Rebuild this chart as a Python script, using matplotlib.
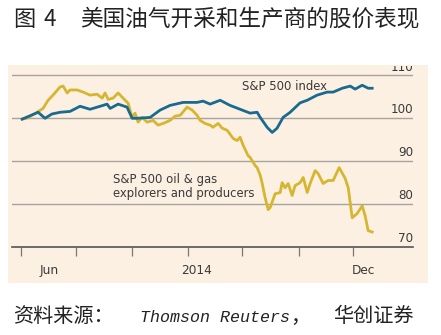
import matplotlib.pyplot as plt
from matplotlib.patches import Rectangle

# days since 1 June 2014, index values (start = 100)
sp_days = [0.6, 9.4, 13.2, 17.0, 21.5, 27.0, 32.5, 38.0, 43.6, 47.4, 49.1, 53.5, 58.4, 61.2, 63.9,
           71.1, 76.6, 82.1, 89.3, 97.0, 100.3, 104.2, 109.7, 115.2, 120.7, 126.2, 130.1, 131.8,
           135.6, 138.4, 141.1, 144.4, 148.3, 153.8, 157.7, 163.2, 168.7, 172.0, 177.0, 181.4,
           184.1, 188.0, 191.3, 193.5]
sp_values = [99.8, 101.4, 100.0, 101.0, 101.4, 101.6, 102.8, 102.1, 102.8, 103.3, 102.3, 103.3, 102.6,
             100.0, 100.0, 100.2, 101.9, 103.0, 103.7, 103.7, 104.0, 103.3, 104.2, 103.0, 102.1,
             101.2, 101.4, 100.2, 97.9, 96.7, 97.7, 100.2, 101.4, 103.6, 104.2, 105.4, 106.1, 106.1,
             107.0, 107.5, 106.8, 107.7, 107.0, 107.0]

oil_days = [0.6, 3.3, 8.8, 12.1, 14.9, 17.6, 21.5, 23.2, 25.4, 27.0, 30.9, 34.2, 38.0, 41.9, 44.7,
            46.3, 48.0, 50.7, 53.5, 56.2, 59.0, 61.2, 62.8, 64.5, 66.7, 69.5, 72.8, 75.5, 78.3,
            82.1, 84.9, 87.7, 91.5, 94.3, 97.0, 98.7, 101.4, 104.2, 105.8, 108.6, 110.8, 113.6,
            116.9, 119.1, 120.7, 122.4, 125.1, 126.2, 129.0, 130.1, 131.8, 132.9, 134.5, 136.2,
            137.3, 140.0, 142.8, 143.9, 145.5, 147.2, 149.4, 151.0, 153.8, 155.5, 157.7, 159.3,
            162.1, 163.7, 166.5, 169.2, 172.0, 175.3, 178.6, 180.3, 182.5, 185.2, 188.0, 189.6,
            191.3, 193.5]
oil_values = [99.8, 100.0, 101.4, 102.3, 104.2, 105.4, 107.3, 107.5, 105.9, 106.6, 106.6, 106.1,
              105.4, 105.6, 104.7, 105.9, 104.4, 104.7, 105.9, 104.7, 103.5, 100.2, 101.2, 99.1,
              100.2, 99.1, 99.5, 98.4, 98.8, 99.5, 100.5, 100.7, 102.6, 101.9, 100.7, 99.5, 98.8,
              98.4, 97.9, 98.8, 97.7, 97.2, 95.3, 94.8, 95.6, 93.7, 91.3, 90.9, 89.0, 88.5, 86.7,
              84.8, 81.5, 78.7, 79.2, 82.4, 82.7, 85.0, 83.8, 84.8, 82.0, 84.3, 85.0, 86.2, 82.7,
              84.8, 87.8, 87.1, 84.8, 85.5, 85.5, 88.5, 86.0, 83.8, 76.8, 77.8, 79.6, 77.3, 73.8,
              73.5]

month_starts = [0, 30, 61, 92, 122, 153, 183]
label_days = [15.4, 96.5, 188.5]
label_text = ['Jun', '2014', 'Dec']
grid_levels = [70, 80, 90, 100, 110]

W, H = 441, 335
bg = '#fcf0e2'
gold = '#d6b630'
blue = '#1a6a90'
txt = '#3a3a3a'


def fx(px):
    return px / W


def fy(py):
    return 1 - py / H


fig = plt.figure(figsize=(W / 100, H / 100), dpi=100)
fig.patches.append(Rectangle((fx(8), fy(283)), fx(428) - fx(8), fy(65) - fy(283),
                             transform=fig.transFigure, facecolor=bg, edgecolor='none', zorder=-5))

ax = fig.add_axes([fx(12), fy(247), fx(413) - fx(12), fy(65.5) - fy(247)], zorder=2)
ax.set_facecolor('none')
ax.set_xlim(-5, 216)
ax.set_ylim(70, 112.3)

for lv in grid_levels[1:]:
    ax.axhline(lv, color='#a8a39c', lw=1.0, zorder=1)
for lv in grid_levels:
    ax.text(216, lv + 1.95, str(lv), ha='right', va='center', fontsize=8.6, color=txt,
            clip_on=True)

ax.plot(oil_days, oil_values, color=gold, lw=2.0, solid_joinstyle='round', zorder=3)
ax.plot(sp_days, sp_values, color=blue, lw=2.0, solid_joinstyle='round', zorder=4)

ax.text(121.8, 107.5, 'S&P 500 index', ha='left', va='center', fontsize=8.4, color=txt)
ax.text(50.7, 84.0, 'S&P 500 oil & gas\nexplorers and producers', ha='left', va='center',
        fontsize=8.4, color=txt, linespacing=1.1)

for s in ['top', 'right', 'left']:
    ax.spines[s].set_visible(False)
ax.spines['bottom'].set_color('#555555')
ax.spines['bottom'].set_linewidth(1.2)
ax.set_yticks([])
ax.set_xticks(month_starts)
ax.set_xticklabels([])
ax.tick_params(axis='x', which='major', direction='out', length=6.5, width=0.9, color='#777777')
ax.set_xticks(label_days, minor=True)
ax.set_xticklabels(label_text, minor=True)
ax.tick_params(axis='x', which='minor', length=0, pad=12, labelsize=8.7, labelcolor=txt)

cjk = ['Noto Sans CJK SC', 'DejaVu Sans']
fig.text(fx(13), fy(19), '图', fontsize=16, family=cjk, va='center', ha='left', color='#222222')
fig.text(fx(44), fy(19), '4', fontsize=16, family=cjk, va='center', ha='left', color='#222222')
fig.text(fx(80), fy(19), '美国油气开采和生产商的股价表现', fontsize=16.3, family=cjk, va='center',
         ha='left', color='#222222')

fig.text(fx(13), fy(317), '资料来源：', fontsize=14.5, family=cjk, va='center', ha='left',
         color='#222222')
fig.text(fx(140), fy(317), 'Thomson Reuters', fontsize=12, family='Liberation Mono',
         style='italic', va='center', ha='left', color='#222222')
fig.text(fx(290), fy(317), '，', fontsize=14.5, family=cjk, va='center', ha='left',
         color='#222222')
fig.text(fx(333), fy(317), '华创证券', fontsize=14.5, family=cjk, va='center', ha='left',
         color='#222222')

fig.savefig('out.png', dpi=100)
